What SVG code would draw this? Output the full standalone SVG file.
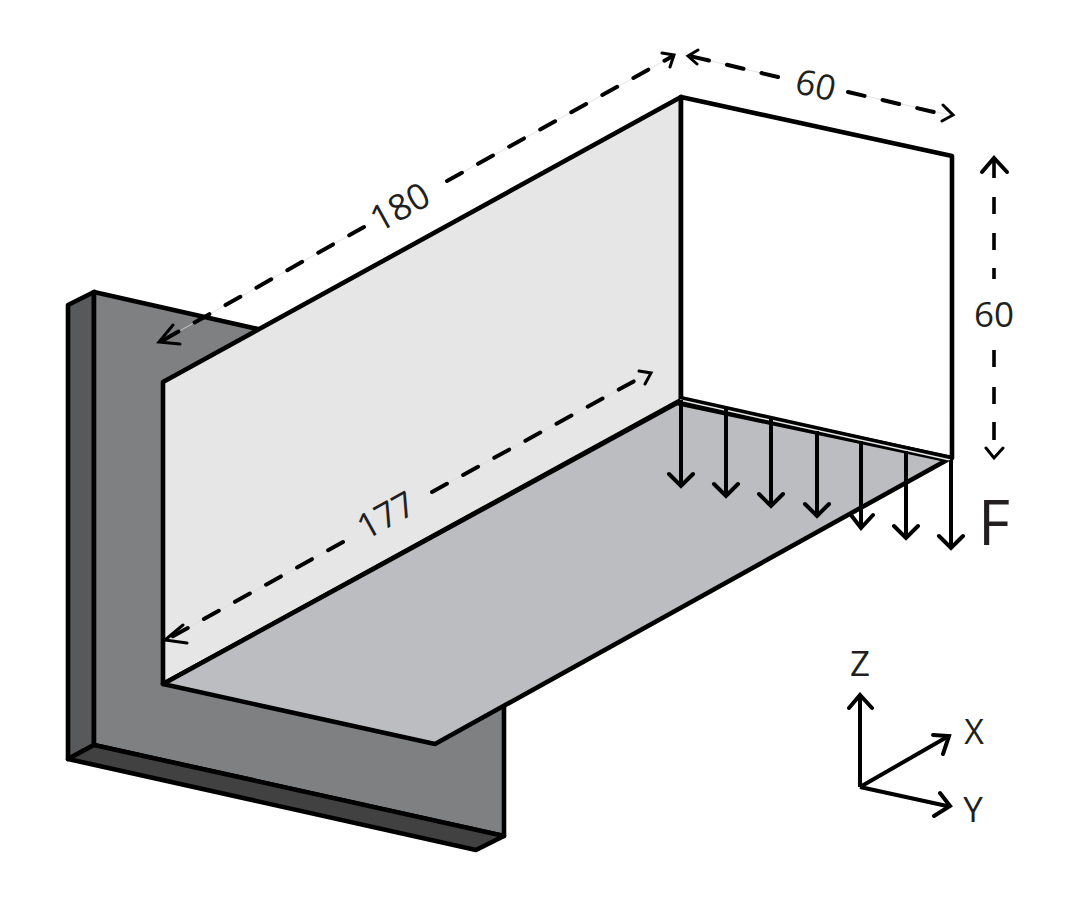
<svg xmlns="http://www.w3.org/2000/svg" width="1080" height="899" viewBox="0 0 1080 899">
<style>
.o{stroke:#000;stroke-width:4.600;stroke-linejoin:round;stroke-linecap:round}
.a{fill:none;stroke:#000;stroke-width:4}
.ah{fill:none;stroke:#000;stroke-width:4;stroke-linecap:round;stroke-linejoin:miter}
.dh{fill:none;stroke:#000;stroke-width:3;stroke-linecap:round;stroke-linejoin:miter}
.d{fill:none;stroke:#000;stroke-width:4;stroke-linecap:round;stroke-dasharray:17 18.500}
.v{fill:none;stroke:#000;stroke-width:3.600}
.h{fill:none;stroke:#dcdcdc;stroke-width:.8}
.t{font-family:"Open Sans","Liberation Sans",sans-serif;fill:#231f20;text-anchor:middle}
</style>
<rect width="1080" height="899" fill="#fff"/>
<g id="plate">
<polygon class="o" points="68,305 94,292 94,745 68,759" fill="#58595b"/>
<polygon points="94,292 260,329 163,382 163,684 435,744 504,706 504,836 94,745" fill="#7f8082"/>
<path class="o" fill="none" d="M94 745V292L258 329M504 706V836L94 745"/>
<polygon class="o" points="68,759 94,745 504,836 476,850" fill="#414141"/>
</g>
<g id="beam">
<polygon class="o" points="163,382 681,97 681,400 163,684" fill="#e6e6e6"/>
<polygon class="o" points="681,97 952,156 952,458 681,400" fill="#fff"/>
<polygon class="o" points="163,684 435,744 947,460 677,403" fill="#bcbdc1"/>
<path d="M680 398L950 458" stroke="#000" stroke-width="4.600" fill="none"/>
<path d="M680 400L950 460" stroke="#e6e6e6" stroke-width="1.500" fill="none"/>
</g>
<g id="load">
<path class="a" d="M681 400V486M726 409V496M771 419V506M817 431V516M861 441V528M906 451V538M951 460V548"/>
<path class="ah" d="M669 474L681 486L693 474M714 484L726 496L738 484M759 494L771 506L783 494M805 504L817 516L829 504M851 515L861 528L873 515M894 526L906 538L918 526M939 536L951 548L963 536"/>
<text class="t" x="994" y="545" font-size="62">F</text>
</g>
<g id="dimensions">
<path class="h" d="M160 342L364 227M447 181L673 56M690 56L778 77M848 92L950 115M166 640L343 542M432 492L649 373"/>
<path class="d" d="M364 227L160 342M447 181L673 56"/>
<path class="d" d="M778 77L690 56M848 92L938 113"/>
<path class="v" d="M994 160V279" stroke-dasharray="18 19 17 19 17 18 11 99"/>
<path class="v" d="M994 350V440" stroke-dasharray="17 20 17 18 18 99"/>
<path class="d" d="M343 542L166 640M432 492L649 373"/>
<path class="dh" d="M173 325L159 342L180 344M662 53L674 55L670 67M698 50L688 56L697 64M943 105L953 115L942 121M986 448L994 458L1003 448M183 625L165 640L187 643M639 371L651 373L645 384"/>
<path class="ah" d="M982 172L994 158L1007 172"/>
<text class="t" transform="translate(406 218) rotate(-29)" font-size="36">180</text>
<text class="t" transform="translate(392 526) rotate(-29)" font-size="35">177</text>
<text class="t" transform="translate(813 97) rotate(13)" font-size="35">60</text>
<text class="t" x="994" y="327" font-size="35">60</text>
</g>
<g id="axes">
<path class="a" d="M860 787V697M860 787L947 737M860 787L947 806"/>
<path class="ah" d="M849 708L860 695L872 708M933 735L949 736L943 754M940 793L950 806L934 816"/>
<text class="t" x="860" y="676" font-size="35">Z</text>
<text class="t" x="974" y="744" font-size="34">X</text>
<text class="t" x="973" y="822" font-size="35">Y</text>
</g>
</svg>
